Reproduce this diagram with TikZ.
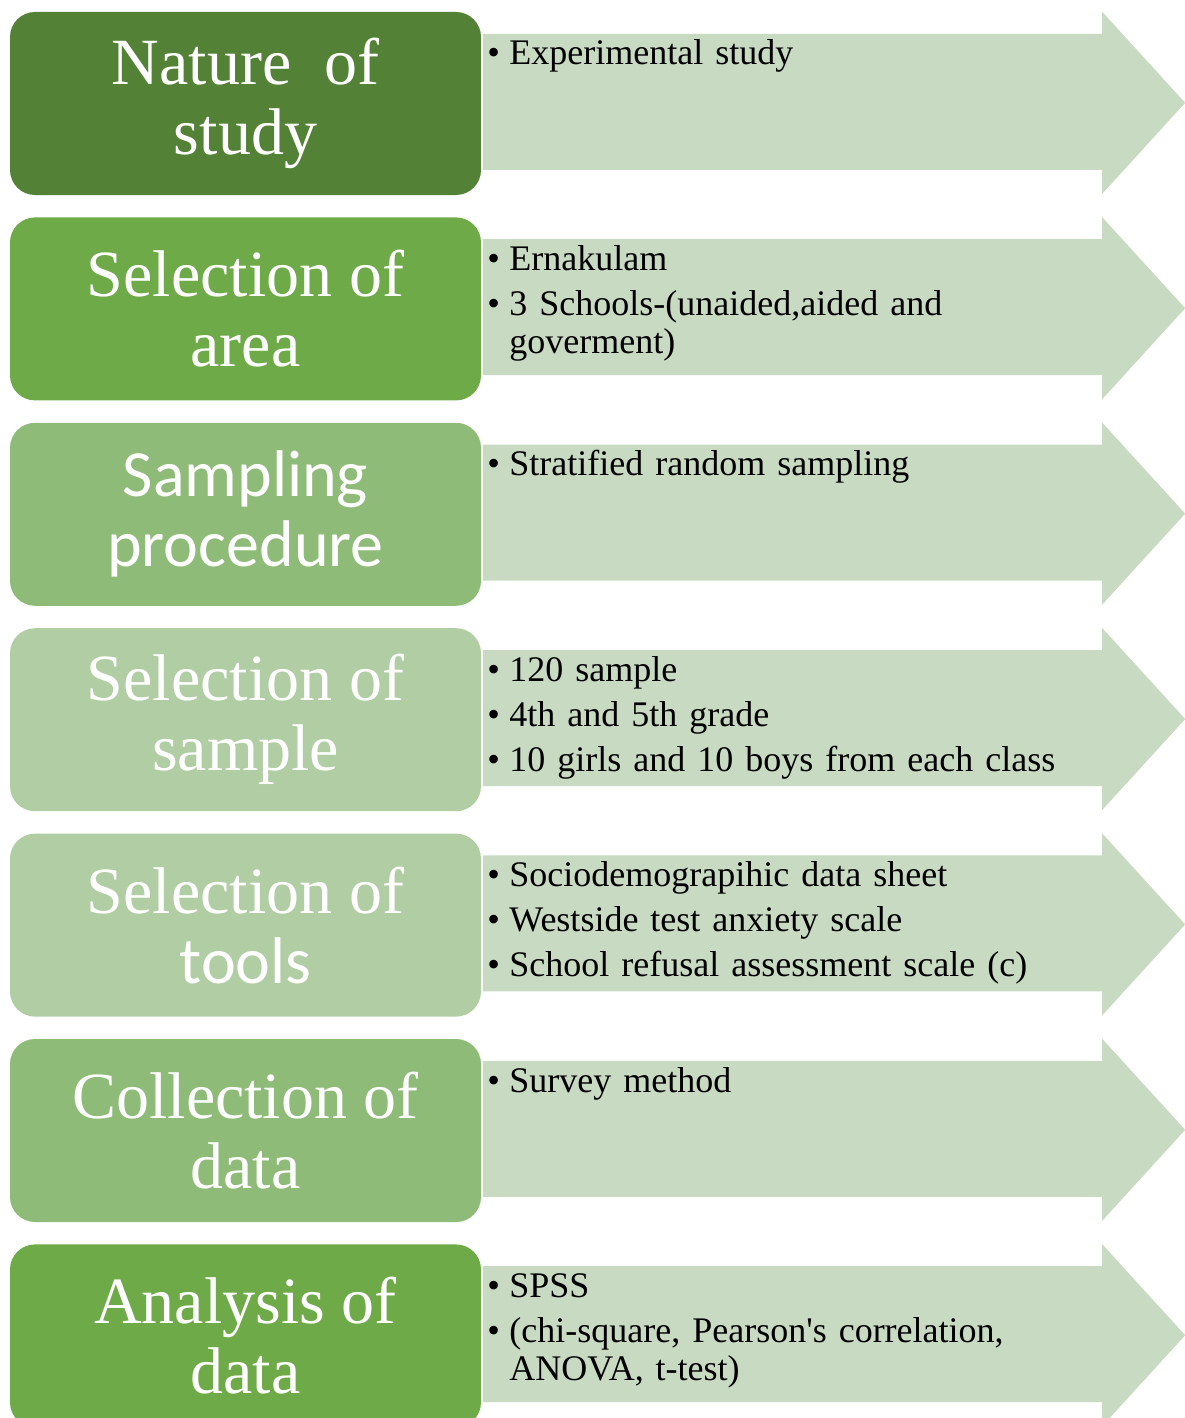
\documentclass[tikz,border=0pt]{standalone}
\usepackage{fontspec}
\setmainfont{Liberation Serif}
\newfontfamily\calibri{Carlito}
\usetikzlibrary{positioning}

\definecolor{stepdark}{HTML}{538135}
\definecolor{stepmid}{HTML}{6FAA48}
\definecolor{stepsoft}{HTML}{8EBB77}
\definecolor{steplight}{HTML}{B0CDA3}
\definecolor{arrowgreen}{HTML}{C8DBC2}

\newcommand{\bitem}[1]{\par\noindent\makebox[26pt][l]{\hspace{4pt}\textbullet}\rule{0pt}{26pt}#1}

\tikzset{
  stage/.style={rectangle, rounded corners=25pt, minimum width=471pt, minimum height=183pt,
    inner sep=0pt, text=white, align=center, font=\fontsize{66}{70}\selectfont},
  detail/.style={inner xsep=0pt, inner ysep=0pt, text width=600pt, align=left,
    font=\fontsize{36}{38}\selectfont, execute at begin node={\setlength{\parskip}{7pt}}},
  pointer/.style={fill=arrowgreen},
}

\begin{document}
\begin{tikzpicture}[x=1pt, y=1pt]
    \useasboundingbox (0,0) rectangle (1185,-1418);
    \clip (0,0) rectangle (1185,-1418);

    % left column
    \node[stage, fill=stepdark] (nature) at (245.5,-103.5) {Nature\ \ of\\study};
    \node[stage, fill=stepmid, below=22pt of nature] (area) {Selection of\\area};
    \node[stage, fill=stepsoft, below=22pt of area, font=\calibri\fontsize{66}{70}\selectfont] (sampling) {Sampling\\procedure};
    \node[stage, fill=steplight, below=22pt of sampling] (sample) {Selection of\\sample};
    \node[stage, fill=steplight, below=22pt of sample] (tools) {Selection of\\{\calibri tools}};
    \node[stage, fill=stepsoft, below=22pt of tools] (collection) {Collection of\\data};
    \node[stage, fill=stepmid, below=22pt of collection] (analysis) {Analysis of\\data};

    % arrows
    \foreach \s in {nature,area,sampling,sample,tools,collection,analysis}
        \fill[pointer] (\s.north east) ++(2,-22) -- ++(619,0) -- ++(0,22) -- ++(83,-91)
            -- ++(-83,-91) -- ++(0,24) -- ++(-619,0) -- cycle;

    % right column
    \node[detail, below right=8pt and 2pt of nature.north east] (naturetxt) {\bitem{Experimental study}};
    \node[detail, below right=8pt and 2pt of area.north east] (areatxt)
        {\bitem{Ernakulam}\bitem{3 Schools-(unaided,aided and\\\hspace*{26pt}goverment)}};
    \node[detail, below right=8pt and 2pt of sampling.north east] (samplingtxt) {\bitem{Stratified random sampling}};
    \node[detail, below right=8pt and 2pt of sample.north east] (sampletxt)
        {\bitem{120 sample}\bitem{4th and 5th grade}\bitem{10 girls and 10 boys from each class}};
    \node[detail, below right=8pt and 2pt of tools.north east] (toolstxt)
        {\bitem{Sociodemograpihic data sheet}\bitem{Westside test anxiety scale}\bitem{School refusal assessment scale (c)}};
    \node[detail, below right=8pt and 2pt of collection.north east] (collectiontxt) {\bitem{Survey method}};
    \node[detail, below right=8pt and 2pt of analysis.north east] (analysistxt)
        {\bitem{SPSS}\bitem{(chi-square, Pearson\textquotesingle s correlation,\\\hspace*{26pt}ANOVA, t-test)}};

\end{tikzpicture}
\end{document}
